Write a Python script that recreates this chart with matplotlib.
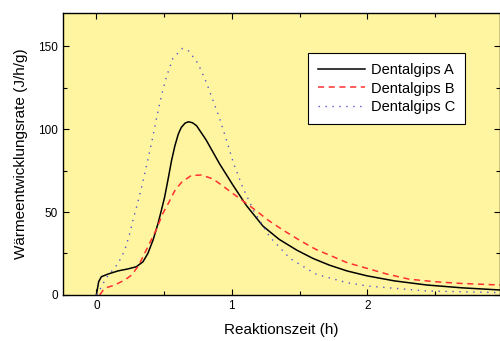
import matplotlib
matplotlib.use("Agg")
import matplotlib.pyplot as plt
from matplotlib.ticker import MultipleLocator

plt.rcParams['font.family'] = ['Liberation Sans', 'DejaVu Sans']

# Dentalgips A (black, solid)
t_a = [0.0, 0.017, 0.037, 0.086, 0.16, 0.233, 0.295, 0.344, 0.38, 0.418, 0.455, 0.48,
       0.504, 0.53, 0.555, 0.58, 0.605, 0.627, 0.655, 0.68, 0.71, 0.74, 0.81, 0.91,
       1.01, 1.107, 1.23, 1.35, 1.48, 1.6, 1.72, 1.85, 2.0, 2.2, 2.44, 2.7, 2.98]
v_a = [0.0, 8.0, 11.0, 12.6, 14.5, 15.7, 17.0, 20.0, 25.0, 33.0, 43.0, 51.0,
       59.0, 70.0, 81.0, 90.0, 97.0, 101.0, 103.6, 104.4, 103.8, 102.0, 93.5, 79.0,
       66.0, 54.0, 41.5, 33.5, 27.0, 22.0, 18.0, 14.5, 11.5, 8.5, 6.0, 4.3, 3.0]

# Dentalgips B (red, dashed)
t_b = [0.025, 0.06, 0.135, 0.21, 0.26, 0.31, 0.38, 0.44, 0.49, 0.53, 0.58, 0.63,
       0.70, 0.775, 0.86, 0.934, 1.01, 1.094, 1.16, 1.27, 1.38, 1.5, 1.62, 1.75,
       1.85, 2.0, 2.15, 2.31, 2.5, 2.68, 2.98]
v_b = [0.0, 4.0, 6.0, 9.0, 12.0, 17.5, 29.0, 39.0, 49.0, 55.0, 63.0, 68.0,
       72.0, 72.3, 70.0, 65.7, 61.0, 56.0, 52.0, 45.0, 39.0, 33.0, 27.5, 23.0,
       19.5, 16.0, 12.5, 9.5, 8.0, 7.0, 6.0]

# Dentalgips C (blue, dotted)
t_c = [0.0, 0.025, 0.07, 0.16, 0.21, 0.246, 0.27, 0.30, 0.34, 0.406, 0.443, 0.48,
       0.517, 0.565, 0.635, 0.683, 0.75, 0.81, 0.86, 0.91, 0.967, 1.01, 1.08, 1.16,
       1.28, 1.43, 1.62, 1.85, 2.0, 2.44, 2.98]
v_c = [0.0, 3.0, 10.0, 19.0, 27.0, 37.0, 45.0, 54.0, 67.0, 91.0, 106.0, 120.0,
       131.5, 142.6, 148.6, 147.0, 139.6, 128.5, 117.5, 106.4, 91.7, 80.0, 65.0, 51.0,
       35.0, 22.0, 12.6, 7.4, 5.4, 2.4, 1.4]

fig = plt.figure(figsize=(5.0, 3.41), dpi=100)
ax = fig.add_axes([0.125, 0.135, 0.875, 0.827])
ax.set_facecolor('#FFF5A0')

ax.plot(t_a, v_a, color='black', lw=1.1, label='Dentalgips A')
ax.plot(t_b, v_b, color='#FF3030', lw=1.1, ls=(0, (4, 3)), label='Dentalgips B')
ax.plot(t_c, v_c, color='#5555CC', lw=1.0, ls=(0, (1, 4)), label='Dentalgips C')

ax.set_xlim(-0.25, 2.98)
ax.set_ylim(0, 170)
ax.xaxis.set_major_locator(MultipleLocator(1))
ax.xaxis.set_minor_locator(MultipleLocator(0.5))
ax.yaxis.set_major_locator(MultipleLocator(50))
ax.yaxis.set_minor_locator(MultipleLocator(25))
ax.tick_params(which='both', direction='in', top=True, right=True, labelsize=8.5, width=0.8)
ax.tick_params(which='major', length=4)
ax.tick_params(which='minor', length=3)
for s in ax.spines.values():
    s.set_linewidth(1.0)

ax.set_xlabel('Reaktionszeit (h)', fontsize=11, labelpad=8)
ax.set_ylabel('Wärmeentwicklungsrate (J/h/g)', fontsize=11, labelpad=7)

leg = ax.legend(loc='upper left', bbox_to_anchor=(0.545, 0.884), fontsize=10.5,
                fancybox=False, edgecolor='black', framealpha=1, handlelength=3.2,
                handletextpad=0.4, borderpad=0.7, labelspacing=0.3)
leg.get_frame().set_linewidth(0.8)

fig.savefig('out.png', dpi=100)
